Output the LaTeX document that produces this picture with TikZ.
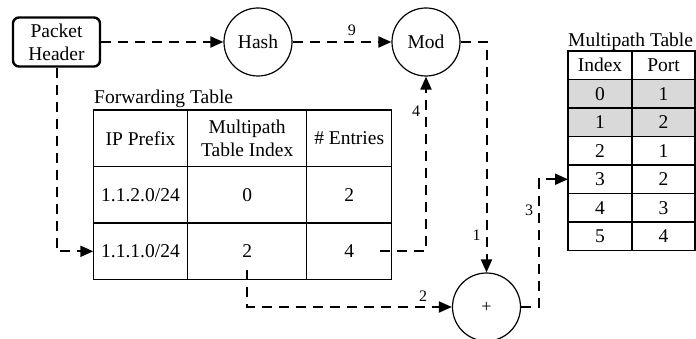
\documentclass[tikz,border=0pt]{standalone}
\usepackage{fontspec}
\setmainfont{Liberation Serif}
\usepackage{tikz}
\usepackage{xcolor}
\usetikzlibrary{positioning,arrows.meta}
\definecolor{shade}{RGB}{217, 217, 217}
\tikzstyle{block} = [
    rectangle,
    rounded corners=6pt,
    minimum width=87pt,
    minimum height=49pt,
    align=center,
    draw,
    line width=2.4pt
]
\tikzstyle{op} = [
    circle,
    minimum size=68pt,
    inner sep=0pt,
    draw,
    line width=1.2pt
]
\tikzstyle{cell} = [
    rectangle,
    draw,
    line width=1.4pt,
    outer sep=0pt,
    inner sep=0pt,
    align=center
]
\tikzstyle{fcell} = [cell, minimum height=56.5pt]
\tikzstyle{mleft} = [cell, minimum height=28.5pt, minimum width=64pt]
\tikzstyle{mright} = [cell, minimum height=28.5pt, minimum width=63pt]
\tikzstyle{title} = [anchor=base west, inner sep=0pt]
\tikzstyle{arrow} = [
    line width=2pt,
    dash pattern=on 10pt off 7pt,
    -{Triangle[length=13pt,width=11pt]}
]
\tikzstyle{lbl} = [
    font=\fontsize{16}{18}\selectfont,
    inner sep=5pt
]

\begin{document}
\begin{tikzpicture}[x=1pt, y=-1pt, font=\fontsize{19.5}{23}\selectfont]
    \useasboundingbox (0,0) rectangle (696,339);

    \node[block] (pkt) at (56.5,42) {Packet\\Header};
    \node[op] (hash) at (258,42) {Hash};
    \node[op] (mod) at (426,42) {Mod};
    \node[op, font=\fontsize{18}{20}\selectfont] (sum) at (486.5,307) {+};

    % forwarding table
    \node[title] (ftitle) at (94,104) {Forwarding Table};
    \node[fcell, minimum width=94.4pt] (fhIP) at (140.5,138.3) {IP Prefix};
    \node[fcell, minimum width=119pt, right=0pt of fhIP] (fhIdx) {Multipath\\Table Index};
    \node[fcell, minimum width=85pt, right=0pt of fhIdx] (fhNum) {\# Entries};
    \node[fcell, minimum width=94.4pt, below=0pt of fhIP] (fIP1) {1.1.2.0/24};
    \node[fcell, minimum width=119pt, right=0pt of fIP1] (fIdx1) {0};
    \node[fcell, minimum width=85pt, right=0pt of fIdx1] (fNum1) {2};
    \node[fcell, minimum width=94.4pt, below=0pt of fIP1] (fIP2) {1.1.1.0/24};
    \node[fcell, minimum width=119pt, right=0pt of fIP2] (fIdx2) {2};
    \node[fcell, minimum width=85pt, right=0pt of fIdx2] (fNum2) {4};

    % multipath table
    \node[title] (mtitle) at (568,47) {Multipath Table};
    \node[mleft] (mhIdx) at (600,65.25) {Index};
    \node[mright, right=0pt of mhIdx] (mhPort) {Port};
    \node[mleft, fill=shade, below=0pt of mhIdx] (mIdx0) {0};
    \node[mright, fill=shade, right=0pt of mIdx0] (mPort0) {1};
    \node[mleft, fill=shade, below=0pt of mIdx0] (mIdx1) {1};
    \node[mright, fill=shade, right=0pt of mIdx1] (mPort1) {2};
    \node[mleft, below=0pt of mIdx1] (mIdx2) {2};
    \node[mright, right=0pt of mIdx2] (mPort2) {1};
    \node[mleft, below=0pt of mIdx2] (mIdx3) {3};
    \node[mright, right=0pt of mIdx3] (mPort3) {2};
    \node[mleft, below=0pt of mIdx3] (mIdx4) {4};
    \node[mright, right=0pt of mIdx4] (mPort4) {3};
    \node[mleft, below=0pt of mIdx4] (mIdx5) {5};
    \node[mright, right=0pt of mIdx5] (mPort5) {4};

    \coordinate (bend) at (539,307);

    \draw[arrow] (pkt) -- (hash);
    \draw[arrow] (hash) -- node[lbl, above, pos=0.6] {9} (mod);
    \draw[arrow] (mod) -| node[lbl, left, pos=0.92] {1} (sum);
    \draw[arrow] ([xshift=31pt]fNum2.center) -| node[lbl, left, pos=0.9] {4} (mod);
    \draw[arrow] (pkt) |- (fIP2);
    \draw[arrow] ([yshift=-19pt]fIdx2.center) |- node[lbl, above, pos=0.93] {2} (sum);
    \draw[arrow] (sum) -- (bend) |- node[lbl, left, pos=0.38] {3} (mIdx3);
\end{tikzpicture}
\end{document}
